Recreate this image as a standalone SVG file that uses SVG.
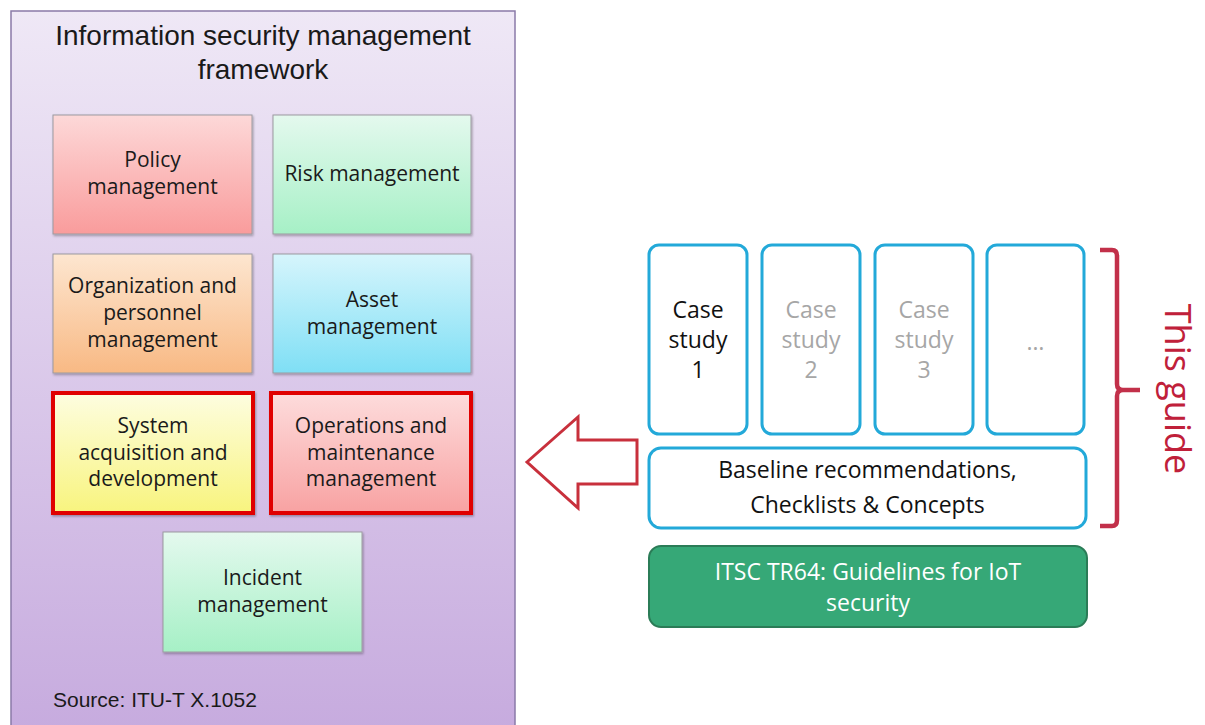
<svg xmlns="http://www.w3.org/2000/svg" width="1205" height="725" viewBox="0 0 1205 725">
<defs>
<linearGradient id="gFrame" x1="0" y1="0" x2="0" y2="1"><stop offset="0" stop-color="#efe8f6"/><stop offset="1" stop-color="#c6aade"/></linearGradient>
<linearGradient id="gRed" x1="0" y1="0" x2="0" y2="1"><stop offset="0" stop-color="#fdd8d8"/><stop offset="1" stop-color="#f99c9c"/></linearGradient>
<linearGradient id="gGreen" x1="0" y1="0" x2="0" y2="1"><stop offset="0" stop-color="#e4f9ee"/><stop offset="1" stop-color="#a6f0c6"/></linearGradient>
<linearGradient id="gOrange" x1="0" y1="0" x2="0" y2="1"><stop offset="0" stop-color="#fde6d0"/><stop offset="1" stop-color="#f8b984"/></linearGradient>
<linearGradient id="gBlue" x1="0" y1="0" x2="0" y2="1"><stop offset="0" stop-color="#d6f5fc"/><stop offset="1" stop-color="#7fdff5"/></linearGradient>
<linearGradient id="gYellow" x1="0" y1="0" x2="0" y2="1"><stop offset="0" stop-color="#fdfde0"/><stop offset="1" stop-color="#f8f47e"/></linearGradient>
<linearGradient id="gPink" x1="0" y1="0" x2="0" y2="1"><stop offset="0" stop-color="#fddcdc"/><stop offset="1" stop-color="#f8a2a2"/></linearGradient>
<filter id="sh" x="-5%" y="-5%" width="115%" height="115%"><feDropShadow dx="1" dy="1.5" stdDeviation="1.2" flood-color="#000" flood-opacity="0.3"/></filter>
</defs>
<style>
.box{stroke:#9c9aa0;stroke-width:1;filter:url(#sh)}
.hl{stroke:#e00000;stroke-width:4}
.t{font-family:"Open Sans","Noto Sans",sans-serif;font-size:21px;fill:#1a1a1a;text-anchor:middle}
.a{font-family:"Liberation Sans",Arial,sans-serif;fill:#1a1a1a}
.case{fill:#fff;stroke:#23a9d9;stroke-width:3}
.ct{font-family:"Open Sans","Noto Sans",sans-serif;font-size:23px;text-anchor:middle}
</style>
<rect width="1205" height="725" fill="#fff"/>
<g id="frame">
<rect x="11" y="11" width="504" height="730" fill="url(#gFrame)" stroke="#8a7aa8" stroke-width="1.5"/>
<text class="a" x="263" y="45" font-size="28" text-anchor="middle">Information security management</text>
<text class="a" x="263" y="79" font-size="28" text-anchor="middle">framework</text>
<text class="a" x="53" y="707" font-size="21">Source: ITU-T X.1052</text>
</g>
<g id="policy"><rect class="box" x="53" y="115" width="199" height="119" fill="url(#gRed)"/>
<text class="t" x="152.5" y="167">Policy</text><text class="t" x="152.5" y="194">management</text></g>
<g id="risk"><rect class="box" x="273" y="115" width="198" height="119" fill="url(#gGreen)"/>
<text class="t" x="372" y="181">Risk management</text></g>
<g id="org"><rect class="box" x="53" y="254" width="199" height="119" fill="url(#gOrange)"/>
<text class="t" x="152.5" y="293">Organization and</text><text class="t" x="152.5" y="320">personnel</text><text class="t" x="152.5" y="347">management</text></g>
<g id="asset"><rect class="box" x="273" y="254" width="198" height="119" fill="url(#gBlue)"/>
<text class="t" x="372" y="307">Asset</text><text class="t" x="372" y="334">management</text></g>
<g id="system"><rect class="box hl" x="53" y="393" width="200" height="120" fill="url(#gYellow)"/>
<text class="t" x="153" y="433">System</text><text class="t" x="153" y="460">acquisition and</text><text class="t" x="153" y="486">development</text></g>
<g id="operations"><rect class="box hl" x="271" y="393" width="200" height="120" fill="url(#gPink)"/>
<text class="t" x="371" y="433">Operations and</text><text class="t" x="371" y="460">maintenance</text><text class="t" x="371" y="486">management</text></g>
<g id="incident"><rect class="box" x="163" y="532" width="199" height="120" fill="url(#gGreen)"/>
<text class="t" x="262.5" y="585">Incident</text><text class="t" x="262.5" y="612">management</text></g>

<g id="case1"><rect class="case" x="649" y="245" width="98" height="189" rx="10"/>
<text class="ct" x="698" y="318" fill="#111">Case</text><text class="ct" x="698" y="348" fill="#111">study</text><text class="ct" x="698" y="378" fill="#111">1</text></g>
<g id="case2"><rect class="case" x="762" y="245" width="98" height="189" rx="10"/>
<text class="ct" x="811" y="318" fill="#a6a6a6">Case</text><text class="ct" x="811" y="348" fill="#a6a6a6">study</text><text class="ct" x="811" y="378" fill="#a6a6a6">2</text></g>
<g id="case3"><rect class="case" x="875" y="245" width="98" height="189" rx="10"/>
<text class="ct" x="924" y="318" fill="#a6a6a6">Case</text><text class="ct" x="924" y="348" fill="#a6a6a6">study</text><text class="ct" x="924" y="378" fill="#a6a6a6">3</text></g>
<g id="case4"><rect class="case" x="987" y="245" width="97" height="189" rx="10"/>
<text class="ct" x="1035.5" y="350" fill="#a6a6a6">…</text></g>
<g id="baseline"><rect class="case" x="649" y="448" width="437" height="80" rx="12"/>
<text class="ct" x="867.5" y="478" fill="#111">Baseline recommendations,</text><text class="ct" x="867.5" y="513" fill="#111">Checklists &amp; Concepts</text></g>
<g id="itsc"><rect x="649" y="546" width="438" height="81" rx="12" fill="#36a877" stroke="#2b7c57" stroke-width="2"/>
<text class="ct" x="868" y="580" fill="#fff">ITSC TR64: Guidelines for IoT</text><text class="ct" x="868" y="611" fill="#fff">security</text></g>
<g id="guide">
<path d="M1100,250 L1112,250 Q1117,250 1117,256 L1117,384 Q1117,390 1123,390 L1140,390 M1123,390 Q1117,390 1117,396 L1117,520 Q1117,526 1112,526 L1100,526" fill="none" stroke="#c2304a" stroke-width="4.5"/>
<text transform="translate(1165,389) rotate(90)" font-family="'Open Sans','Noto Sans',sans-serif" font-size="36" fill="#c0203a" text-anchor="middle">This guide</text>
</g>
<g id="connectors">
<polygon points="527,462 578,417 578,440 637,440 637,484 578,484 578,508" fill="#fff" stroke="#c8303c" stroke-width="3" stroke-linejoin="miter"/>
</g>
</svg>
